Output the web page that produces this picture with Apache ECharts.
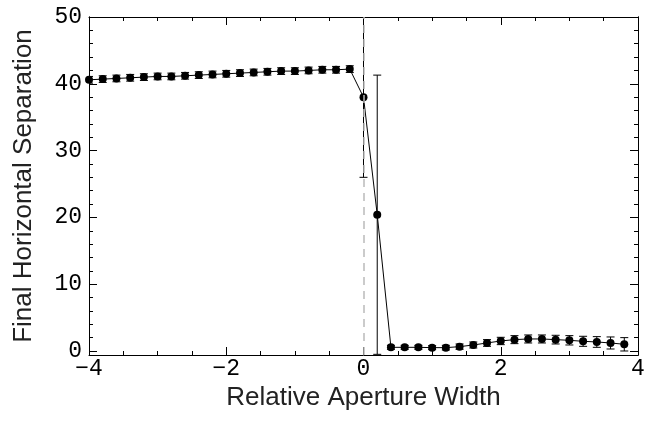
<!DOCTYPE html>
<html>
<head>
<meta charset="utf-8">
<script src="https://cdn.jsdelivr.net/npm/echarts@6/dist/echarts.min.js"></script>
<style>html,body{margin:0;padding:0;background:#fff}#c{width:658px;height:422px}</style>
</head>
<body>
<div id="c"></div>
<script>
const xValues = [-4.0,-3.8,-3.6,-3.4,-3.2,-3.0,-2.8,-2.6,-2.4,-2.2,-2.0,-1.8,-1.6,-1.4,-1.2,-1.0,-0.8,-0.6,-0.4,-0.2,
  0.0,0.2,0.4,0.6,0.8,1.0,1.2,1.4,1.6,1.8,2.0,2.2,2.4,2.6,2.8,3.0,3.2,3.4,3.6,3.8];
const yValues = [40.6,40.7,40.8,40.9,41.0,41.1,41.1,41.2,41.3,41.4,41.5,41.6,41.7,41.8,41.9,41.9,42.0,42.1,42.1,42.2,
  38.0,20.4,0.55,0.55,0.55,0.5,0.5,0.65,0.9,1.2,1.5,1.7,1.8,1.8,1.7,1.6,1.45,1.35,1.2,1.0];
const yErrors = [0.5,0.5,0.5,0.5,0.5,0.5,0.5,0.5,0.5,0.5,0.5,0.5,0.5,0.5,0.5,0.5,0.5,0.5,0.5,0.5,
  12.0,20.9,0.3,0.3,0.3,0.3,0.35,0.4,0.45,0.5,0.55,0.6,0.6,0.6,0.65,0.7,0.75,0.8,0.9,1.0];
const yMajorTicks = [0,10,20,30,40,50];
const yMinorTicks = [2,4,6,8,12,14,16,18,22,24,26,28,32,34,36,38,42,44,46,48];
const xTickLabels = ['−4','−2','0','2','4'];

const pts = xValues.map((x,i)=>[x,yValues[i]]);
const errData = xValues.map((x,i)=>[x,yValues[i]-yErrors[i],yValues[i]+yErrors[i]]);
const chart = echarts.init(document.getElementById('c'));
const monoFont = 'Liberation Mono';
const sansFont = 'Liberation Sans';
const axLine = {show:true,onZero:false,lineStyle:{color:'#000',width:1}};
function yAx(pos, major, labels){
  return {
    type:'value', position:pos, offset:0, min:-0.6, max:50,
    axisLine:axLine, splitLine:{show:false},
    axisTick:{show:true,inside:true,length:major?8:4,customValues:major?yMajorTicks:yMinorTicks,lineStyle:{color:'#000'}},
    axisLabel:{show:labels,customValues:yMajorTicks,fontFamily:monoFont,fontSize:23,color:'#000',margin:7},
    name: labels ? 'Final Horizontal Separation' : '',
    nameLocation:'middle', nameGap:52,
    nameTextStyle:{fontFamily:sansFont,fontSize:26,color:'#222'}
  };
}
function xAx(pos, labels){
  return {
    type:'value', position:pos, min:-4, max:4, interval:2,
    axisLine:axLine, splitLine:{show:false},
    axisTick:{show:true,inside:true,length:8,lineStyle:{color:'#000'}},
    minorTick:{show:true,splitNumber:4,length:4,lineStyle:{color:'#000'}},
    axisLabel:{show:labels,fontFamily:monoFont,fontSize:23,color:'#000',margin:2,
      formatter:(v)=>xTickLabels[Math.round((v+4)/2)]},
    name: labels ? 'Relative Aperture Width' : '',
    nameLocation:'middle', nameGap:22,
    nameTextStyle:{fontFamily:sansFont,fontSize:26,color:'#222'}
  };
}
chart.setOption({
  animation:false,
  backgroundColor:'#fff',
  grid:{left:89,right:20,top:17,bottom:67},
  xAxis:[xAx('bottom',true), xAx('top',false)],
  yAxis:[yAx('left',true,true), yAx('left',false,false), yAx('right',true,false), yAx('right',false,false)],
  series:[
    {
      type:'line', data:pts, xAxisIndex:0, yAxisIndex:0,
      symbol:'circle', symbolSize:8,
      itemStyle:{color:'#000'}, lineStyle:{color:'#000',width:1},
      z:3,
      markLine:{
        silent:true, symbol:['none','none'], label:{show:false},
        lineStyle:{color:'#bbb',type:[8,6],width:1.5},
        data:[{xAxis:0}]
      }
    },
    {
      type:'custom', data:errData, xAxisIndex:0, yAxisIndex:0, clip:true, z:4,
      renderItem:function(params, api){
        const x = api.value(0);
        const lo = api.coord([x, api.value(1)]);
        const hi = api.coord([x, api.value(2)]);
        const w = 4;
        const st = {stroke:'#000',lineWidth:1};
        return {type:'group',children:[
          {type:'line',shape:{x1:lo[0],y1:lo[1],x2:hi[0],y2:hi[1]},style:st},
          {type:'line',shape:{x1:lo[0]-w,y1:lo[1],x2:lo[0]+w,y2:lo[1]},style:st},
          {type:'line',shape:{x1:hi[0]-w,y1:hi[1],x2:hi[0]+w,y2:hi[1]},style:st}
        ]};
      }
    }
  ]
});
</script>
</body>
</html>
